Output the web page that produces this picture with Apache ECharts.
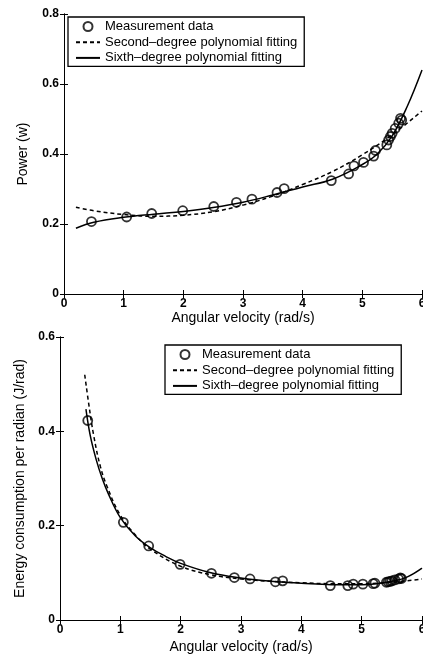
<!DOCTYPE html>
<html>
<head>
<meta charset="utf-8">
<script src="https://cdn.jsdelivr.net/npm/echarts@6/dist/echarts.min.js"></script>
<style>
html,body{margin:0;padding:0;background:#fff;}
#chart{width:423px;height:656px;}
</style>
</head>
<body>
<div id="chart"></div>
<script>
// ---- Data ----
const xTicks = [0, 1, 2, 3, 4, 5, 6];
const powerTicks = [0, 0.2, 0.4, 0.6, 0.8];
const energyTicks = [0, 0.2, 0.4, 0.6];

const legendNames = ['Measurement data', 'Second\u2013degree polynomial fitting', 'Sixth\u2013degree polynomial fitting'];

// measured angular velocities (rad/s)
const omegaMeas = [0.46, 1.05, 1.47, 1.99, 2.51, 2.89, 3.15, 3.57, 3.69, 4.48, 4.77, 4.86, 5.02, 5.19, 5.22, 5.41, 5.44, 5.47, 5.50, 5.55, 5.61, 5.64, 5.66];
// measured power (W)
const powerMeas = [0.207, 0.220, 0.230, 0.238, 0.250, 0.262, 0.271, 0.290, 0.301, 0.324, 0.343, 0.366, 0.376, 0.394, 0.410, 0.426, 0.440, 0.450, 0.459, 0.473, 0.488, 0.502, 0.497];
// measured energy per radian (J/rad)
const energyMeas = [0.423, 0.207, 0.157, 0.118, 0.099, 0.090, 0.087, 0.081, 0.083, 0.073, 0.073, 0.076, 0.076, 0.077, 0.078, 0.080, 0.081, 0.082, 0.083, 0.085, 0.087, 0.089, 0.088];

// fitted curves, power chart
const powerQuadOmega = [0.2, 0.5, 1.0, 1.5, 2.0, 2.5, 3.0, 3.5, 4.0, 4.5, 5.0, 5.5, 6.0];
const powerQuad      = [0.248, 0.238, 0.227, 0.222, 0.225, 0.235, 0.254, 0.280, 0.313, 0.350, 0.398, 0.455, 0.523];
const powerSixOmega  = [0.2, 0.5, 1.0, 1.5, 2.0, 2.5, 3.0, 3.5, 4.0, 4.5, 5.0, 5.25, 5.5, 5.75, 6.0];
const powerSix       = [0.188, 0.205, 0.219, 0.228, 0.236, 0.247, 0.262, 0.283, 0.306, 0.328, 0.370, 0.400, 0.452, 0.535, 0.640];

// fitted curves, energy chart
const energyQuadOmega = [0.41, 0.48, 0.56, 0.67, 0.78, 1.0, 1.25, 1.5, 2.0, 2.5, 3.0, 3.5, 4.0, 4.5, 5.0, 5.5, 6.0];
const energyQuad      = [0.520, 0.455, 0.390, 0.325, 0.283, 0.222, 0.180, 0.150, 0.114, 0.096, 0.087, 0.082, 0.079, 0.077, 0.077, 0.080, 0.087];
const energySixOmega  = [0.43, 0.5, 0.6, 0.7, 0.8, 1.0, 1.25, 1.5, 1.75, 2.0, 2.5, 3.0, 3.5, 4.0, 4.5, 5.0, 5.25, 5.5, 5.75, 6.0];
const energySix       = [0.447, 0.392, 0.340, 0.300, 0.268, 0.217, 0.178, 0.153, 0.135, 0.120, 0.100, 0.089, 0.082, 0.078, 0.075, 0.075, 0.077, 0.082, 0.091, 0.110];

// ---- build ----
const zip = (xs, ys) => xs.map((x, i) => [x, ys[i]]);
const FONT = 'Liberation Sans, Arial, Helvetica, sans-serif';

function xAxisDef(gridIndex, nameGap) {
  return {
    type: 'value', gridIndex, position: 'bottom',
    min: xTicks[0], max: xTicks[xTicks.length - 1], interval: xTicks[1] - xTicks[0],
    name: 'Angular velocity (rad/s)', nameLocation: 'middle', nameGap,
    nameTextStyle: { color: '#000', fontSize: 14, fontFamily: FONT },
    axisLine: { show: true, lineStyle: { color: '#000', width: 1 } },
    axisTick: { show: true, inside: true, length: 4, lineStyle: { color: '#000' } },
    axisLabel: { color: '#000', fontSize: 12, fontWeight: 'bold', fontFamily: FONT, margin: 4, hideOverlap: false },
    splitLine: { show: false }
  };
}
function xMirror(gridIndex) {
  return {
    type: 'value', gridIndex, position: 'top',
    min: xTicks[0], max: xTicks[xTicks.length - 1], interval: xTicks[1] - xTicks[0],
    axisLine: { show: true, lineStyle: { color: '#000', width: 1 } },
    axisTick: { show: true, inside: true, length: 4, lineStyle: { color: '#000' } },
    axisLabel: { show: false }, splitLine: { show: false }
  };
}
function yAxisDef(gridIndex, ticks, name, nameGap) {
  return {
    type: 'value', gridIndex, position: 'left',
    min: ticks[0], max: ticks[ticks.length - 1], interval: ticks[1] - ticks[0],
    name, nameLocation: 'middle', nameGap,
    nameTextStyle: { color: '#000', fontSize: 14, fontFamily: FONT },
    axisLine: { show: true, lineStyle: { color: '#000', width: 1 } },
    axisTick: { show: true, inside: true, length: 4, lineStyle: { color: '#000' } },
    axisLabel: { color: '#000', fontSize: 12, fontWeight: 'bold', fontFamily: FONT, margin: 5 },
    splitLine: { show: false }
  };
}
function yMirror(gridIndex, ticks) {
  return {
    type: 'value', gridIndex, position: 'right',
    min: ticks[0], max: ticks[ticks.length - 1], interval: ticks[1] - ticks[0],
    axisLine: { show: true, lineStyle: { color: '#000', width: 1 } },
    axisTick: { show: true, inside: true, length: 4, lineStyle: { color: '#000' } },
    axisLabel: { show: false }, splitLine: { show: false }
  };
}

function legendDef(left, top) {
  return {
    left, top, orient: 'vertical',
    padding: [3, 7, 2, 7],
    itemWidth: 24, itemHeight: 9, itemGap: 2.7,
    borderColor: '#000', borderWidth: 1.3, borderRadius: 0, backgroundColor: '#fff',
    selectedMode: false,
    textStyle: { color: '#000', fontSize: 13, fontFamily: FONT },
    data: [
      { name: legendNames[0], icon: 'circle', itemStyle: { color: 'rgba(0,0,0,0)', borderColor: '#000', borderWidth: 2 } },
      { name: legendNames[1], itemStyle: { color: 'rgba(0,0,0,0)', borderWidth: 0, opacity: 0 } },
      { name: legendNames[2], itemStyle: { color: 'rgba(0,0,0,0)', borderWidth: 0, opacity: 0 } }
    ]
  };
}

function lineSeries(name, xi, yi, pts, dashed) {
  return {
    name, type: 'line', xAxisIndex: xi, yAxisIndex: yi,
    data: pts, smooth: 0.4, symbol: 'none', showSymbol: false,
    lineStyle: { color: '#000', width: 1.5, type: dashed ? [4, 3] : 'solid' },
    itemStyle: { color: '#000' },
    z: 2, silent: true
  };
}
function scatterSeries(xi, yi, pts) {
  return {
    name: legendNames[0], type: 'scatter', xAxisIndex: xi, yAxisIndex: yi,
    data: pts, symbol: 'circle', symbolSize: 9,
    itemStyle: { color: 'rgba(255,255,255,0)', borderColor: '#000', borderWidth: 1.8 },
    z: 3, silent: true
  };
}

const option = {
  backgroundColor: '#fff',
  animation: false,
  grid: [
    { left: 64, right: 1, top: 14, height: 280, containLabel: false, outerBoundsMode: 'none' },
    { left: 60, right: 1, top: 337, height: 283, containLabel: false, outerBoundsMode: 'none' }
  ],
  xAxis: [xAxisDef(0, 17), xAxisDef(1, 20), xMirror(0), xMirror(1)],
  yAxis: [
    yAxisDef(0, powerTicks, 'Power (w)', 34),
    yAxisDef(1, energyTicks, 'Energy consumption per radian (J/rad)', 31),
    yMirror(0, powerTicks), yMirror(1, energyTicks)
  ],
  legend: [legendDef(68, 17), legendDef(165, 345)],
  series: [
    lineSeries(legendNames[1], 0, 0, zip(powerQuadOmega, powerQuad), true),
    lineSeries(legendNames[2], 0, 0, zip(powerSixOmega, powerSix), false),
    scatterSeries(0, 0, zip(omegaMeas, powerMeas)),
    lineSeries(legendNames[1], 1, 1, zip(energyQuadOmega, energyQuad), true),
    lineSeries(legendNames[2], 1, 1, zip(energySixOmega, energySix), false),
    scatterSeries(1, 1, zip(omegaMeas, energyMeas))
  ]
};

const chart = echarts.init(document.getElementById('chart'), null, { renderer: 'canvas' });
chart.setOption(option);
</script>
</body>
</html>
